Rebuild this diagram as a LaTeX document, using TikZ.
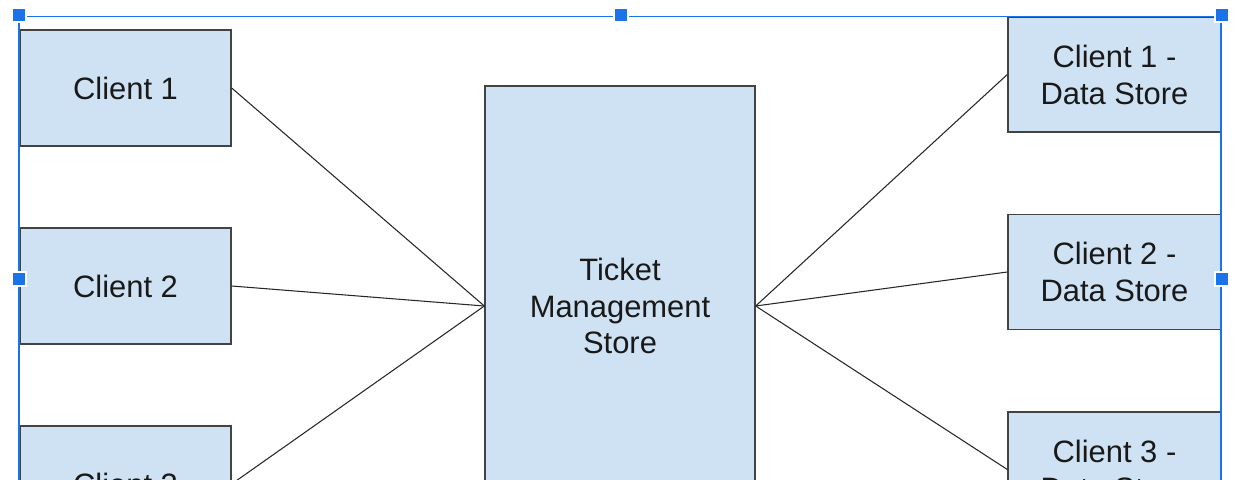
\documentclass[tikz,border=0pt]{standalone}
\usepackage{fontspec}
\setmainfont{Liberation Sans}
\definecolor{boxfill}{HTML}{CFE2F3}
\definecolor{boxline}{HTML}{434343}
\definecolor{selblue}{HTML}{1A73E8}

\begin{document}
\begin{tikzpicture}[x=0.02cm,y=-0.02cm,
    store/.style={draw=boxline,fill=boxfill,line width=0.8pt,inner sep=0pt,
      align=center,text=black!90,font=\fontsize{17.6}{21}\selectfont},
    client/.style={store,minimum width=4.22cm,minimum height=2.32cm},
    datastore/.style={store,minimum width=4.26cm,minimum height=2.3cm},
    link/.style={draw=black!85,line width=0.6pt},
    handle/.style={fill=selblue,draw=white,line width=0.8pt}]
    \useasboundingbox (0,0) rectangle (1238,480);
    \clip (0,0) rectangle (1238,480);
    \fill[white] (0,0) rectangle (1238,480);

    \node[client] (c1) at (125.5,88) {Client 1};
    \node[client] (c2) at (125.5,286) {Client 2};
    \node[client] (c3) at (125.5,484) {Client 3};

    \node[store,minimum width=5.4cm,minimum height=8.8cm] (tms) at (620,306)
         {Ticket\\Management\\Store};

    \node[datastore] (d1) at (1114.5,74.5) {Client 1 -\\Data Store};
    \node[datastore] (d2) at (1114.5,272) {Client 2 -\\Data Store};
    \node[datastore] (d3) at (1114.5,469.5) {Client 3 -\\Data Store};

    \foreach \n in {c1,c2,c3}
             {
               \draw[link] (\n.east) -- (tms.west);
             }
    \foreach \n in {d1,d2,d3}
             {
               \draw[link] (tms.east) -- (\n.west);
             }

    \draw[selblue,line width=1.1pt] (19,480) -- (19,16.5) -- (1221,16.5) -- (1221,480);
    \foreach \p in {(19,15),(621,15),(1222,15),(19,279),(1222,279)}
             {
               \filldraw[handle] \p ++(-7,-7) rectangle ++(14,14);
             }
\end{tikzpicture}
\end{document}
